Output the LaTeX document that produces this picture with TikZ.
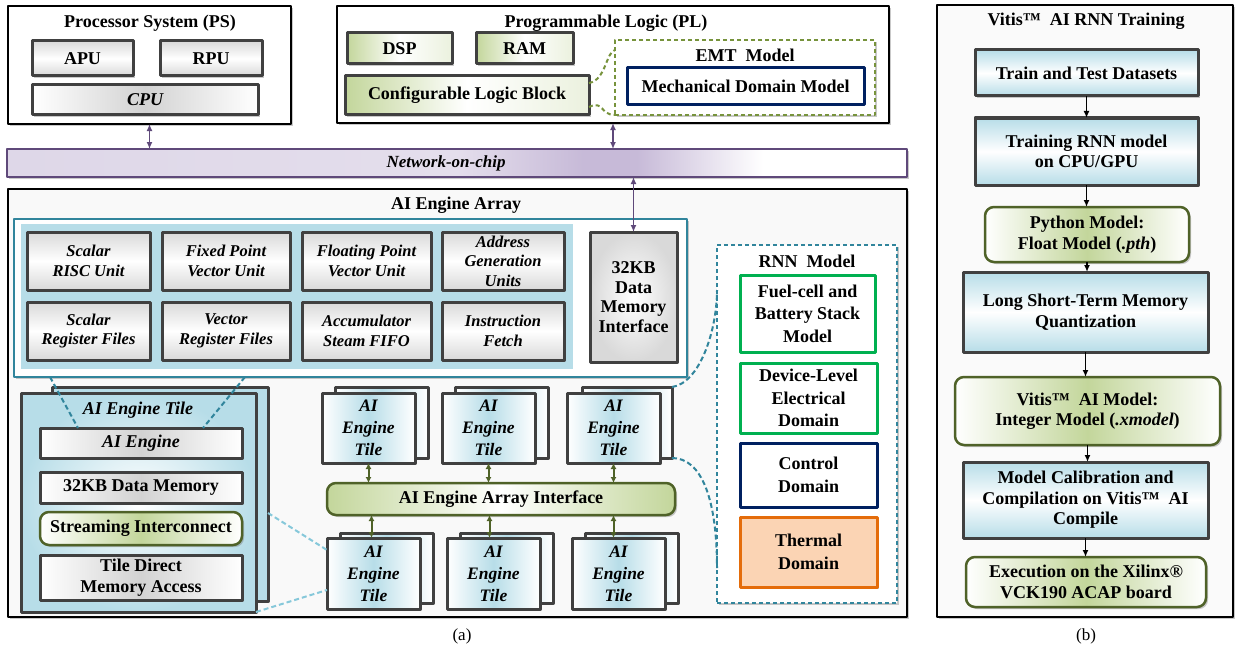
\documentclass[tikz,border=0pt]{standalone}
\usepackage{fontspec}
\setmainfont{Liberation Serif}
\usetikzlibrary{arrows.meta,shadows,calc}

\definecolor{dkgray}{HTML}{404040}
\definecolor{teal1}{HTML}{31859C}
\definecolor{lblue}{HTML}{B7DDE8}
\definecolor{nocpurple}{HTML}{5F497A}
\definecolor{lav1}{HTML}{DED7E8}
\definecolor{lav2}{HTML}{C7BAD8}
\definecolor{lav3}{HTML}{E4DEEC}
\definecolor{cOlive}{HTML}{4F6228}
\definecolor{lgreen}{HTML}{C3D69B}
\definecolor{lgreen2}{HTML}{EBF1DE}
\definecolor{emtgreen}{HTML}{77933C}
\definecolor{rnngreen}{HTML}{00B050}
\definecolor{navy1}{HTML}{002060}
\definecolor{orange1}{HTML}{E46C0A}
\definecolor{peach}{HTML}{FBD4B4}
\definecolor{pale}{HTML}{86C8DA}

% lavender bar that darkens towards the PL link and fades to white on the right
\pgfdeclarehorizontalshading{nocshade}{100bp}{color(0bp)=(lav1); color(25bp)=(lav1); color(50bp)=(lav3); color(57bp)=(lav2); color(60bp)=(lav2); color(67bp)=(white); color(75bp)=(white); color(100bp)=(white)}

% box from corner (x1,y1) to corner (x2,y2): name, style, x1, y1, x2, y2, text
\newcommand\mkbox[7]{%
  \pgfmathsetmacro\mkw{(#5)-(#3)}%
  \pgfmathsetmacro\mkh{(#6)-(#4)}%
  \pgfmathsetmacro\mkx{((#3)+(#5))/2}%
  \pgfmathsetmacro\mky{((#4)+(#6))/2}%
  \node[inner sep=0pt, outer sep=0pt, align=center, minimum width=\mkw pt, minimum height=\mkh pt, #2] (#1) at (\mkx,\mky) {#7};%
}

\newcommand\fA{\fontsize{18}{20.5}\selectfont\bfseries}
\newcommand\fB{\fontsize{16.5}{19.5}\selectfont\bfseries\itshape}
\newcommand\fT{\fontsize{17.5}{22}\selectfont\bfseries\itshape}

\begin{document}
\begin{tikzpicture}[x=1pt, y=-1pt, line join=round,
  myshadow/.style={drop shadow={shadow xshift=2pt, shadow yshift=-2pt, opacity=0.35, fill=black!60}},
  bigbox/.style={draw=black, line width=2pt, fill=white, myshadow},
  pbox/.style={draw=dkgray, line width=3pt, top color=gray!30, bottom color=gray!30, middle color=white, myshadow, font=\fA},
  bandbox/.style={draw=dkgray, line width=3pt, left color=white, right color=white, middle color=gray!35, myshadow, font=\fA},
  gbox/.style={draw=dkgray, line width=3pt, left color=lgreen, right color=lgreen2, middle color=white, myshadow, font=\fA},
  rgbox/.style={draw=cOlive, line width=2.5pt, rounded corners=9pt, left color=white, right color=white, middle color=lgreen, myshadow, font=\fA},
  tbox/.style={draw=dkgray, line width=3pt, left color=white, right color=white, middle color=lblue, font=\fT},
  fbox/.style={draw=dkgray, line width=3pt, top color=lblue, bottom color=lblue, middle color=white, myshadow, font=\fA},
  rnnbox/.style={line width=3pt, fill=white, font=\fA},
  title/.style={font=\fA, inner sep=0pt},
  parrow/.style={draw=nocpurple, line width=1.8pt, {Latex[length=7pt,width=6pt]}-{Latex[length=7pt,width=6pt]}},
  garrow/.style={draw=cOlive, line width=2pt, {Latex[length=6pt,width=6pt]}-{Latex[length=6pt,width=6pt]}},
  karrow/.style={draw=black, line width=1.6pt, -{Latex[length=7pt,width=6pt]}},
  tdash/.style={draw=teal1, line width=2pt, dash pattern=on 5pt off 3pt},
  pdash/.style={draw=pale, line width=2pt, dash pattern=on 5pt off 3pt},
  edash/.style={draw=emtgreen, line width=2pt, dash pattern=on 4pt off 3pt}
]
\useasboundingbox (0,0) rectangle (1238,650);
\fill[white] (0,0) rectangle (1238,650);

% ---------------- Processor System ----------------
\mkbox{ps}{bigbox}{8}{6}{291}{124}{}
\node[title] (pstitle) at (150,23) {Processor System (PS)};
\mkbox{apu}{pbox}{32}{41}{133}{76}{APU}
\mkbox{rpu}{pbox}{160}{41}{262}{76}{RPU}
\mkbox{cpu}{bandbox}{32}{85}{258}{115}{\itshape CPU}

% ---------------- Programmable Logic ----------------
\mkbox{pl}{bigbox}{337}{6}{889}{123}{}
\node[title] (pltitle) at (606,23) {Programmable Logic (PL)};
\mkbox{dsp}{gbox}{347}{33}{452}{64}{DSP}
\mkbox{ram}{gbox}{476}{33}{573}{64}{RAM}
\mkbox{clb}{gbox}{345}{76}{589}{115}{Configurable Logic Block}
\mkbox{emt}{draw=emtgreen, line width=2pt, dash pattern=on 4pt off 3pt, fill=white, myshadow}{615}{40}{875}{115}{}
\node[title] (emttitle) at (745,55) {EMT\ \ Model};
\mkbox{mech}{rnnbox, draw=navy1}{627}{68}{864}{105}{Mechanical Domain Model}
\coordinate (emtA) at (615,50);
\coordinate (emtB) at (615,115);
\draw[edash] ($(clb.north east)+(0,7)$) .. controls (606,80) and (606,52) .. (emtA);
\draw[edash] ($(clb.south east)+(0,-8)$) .. controls (604,100) and (600,115) .. (emtB);

% ---------------- Network-on-chip ----------------
\mkbox{noc}{draw=nocpurple, line width=2.5pt, shade, shading=nocshade, myshadow}{7}{149}{907}{177}{}
\node[font=\fontsize{17}{20}\selectfont\bfseries\itshape, inner sep=0pt] (noctext) at (446,163) {Network-on-chip};
\draw[parrow] (ps.south) -- (ps.south |- noc.north);
\draw[parrow] (pl.south) -- (pl.south |- noc.north);

% ---------------- AI Engine Array ----------------
\mkbox{aie}{draw=black, line width=2pt, fill=gray!5, myshadow}{8}{189}{907}{617}{}
\node[title] (aietitle) at (456,205) {AI Engine Array};

% engine core detail
\mkbox{core}{draw=teal1, line width=2.5pt, fill=white, myshadow}{14}{219}{687}{377}{}
\mkbox{coreblue}{fill=lblue}{21}{224}{573}{369}{}
\mkbox{g11}{pbox, font=\fB}{27}{232}{150}{290}{Scalar\\RISC Unit}
\mkbox{g12}{pbox, font=\fB}{162}{232}{290}{290}{Fixed Point\\Vector Unit}
\mkbox{g13}{pbox, font=\fB}{302}{232}{431}{290}{Floating Point\\Vector Unit}
\mkbox{g14}{pbox, font=\fB}{442}{232}{564}{290}{Address\\Generation\\Units}
\mkbox{g21}{pbox, font=\fB}{27}{302}{150}{360}{Scalar\\Register Files}
\mkbox{g22}{pbox, font=\fB}{162}{302}{290}{360}{Vector\\Register Files}
\mkbox{g23}{pbox, font=\fB}{302}{302}{431}{360}{Accumulator\\Steam FIFO}
\mkbox{g24}{pbox, font=\fB}{442}{302}{564}{360}{Instruction\\Fetch}
\mkbox{dmem}{draw=dkgray, line width=3pt, inner color=white, outer color=gray!30, myshadow, font=\fontsize{18}{19.5}\selectfont\bfseries}{590}{232}{677}{362}{32KB\\Data\\Memory\\Interface}
\draw[parrow] (dmem.north |- noc.south) -- (dmem.north);

% single tile detail
\mkbox{stackb}{draw=dkgray, line width=3pt, fill=lblue, myshadow}{52}{387}{268}{601}{}
\mkbox{stackf}{draw=dkgray, line width=3pt, inner color=white, outer color=lblue, myshadow}{21}{393}{256}{612}{}
\node[font=\fontsize{18}{20}\selectfont\bfseries\itshape, inner sep=0pt] (tiletitle) at (138,410) {AI Engine Tile};
\mkbox{aeng}{bandbox}{40}{428}{242}{458}{\itshape AI Engine}
\mkbox{tmem}{bandbox}{40}{472}{242}{503}{32KB Data Memory}
\mkbox{stream}{rgbox}{40}{512}{242}{545}{Streaming Interconnect}
\mkbox{tdma}{bandbox}{40}{555}{242}{600}{Tile Direct\\Memory Access}
\coordinate (cA) at (50,377);
\coordinate (cB) at (245,377);
\coordinate (aA) at (78,428);
\coordinate (aB) at (203,428);
\draw[tdash] (cA) -- (aA);
\draw[tdash] (cB) -- (aB);

% tile grid
\mkbox{t1b}{tbox, myshadow}{335}{387}{428}{458}{}
\mkbox{t2b}{tbox, myshadow}{455}{387}{548}{458}{}
\mkbox{t3b}{tbox, myshadow}{582}{387}{672}{458}{}
\mkbox{t1}{tbox, myshadow}{322}{393}{415}{463}{AI\\Engine\\Tile}
\mkbox{t2}{tbox, myshadow}{442}{393}{535}{463}{AI\\Engine\\Tile}
\mkbox{t3}{tbox, myshadow}{567}{393}{660}{463}{AI\\Engine\\Tile}
\mkbox{iface}{rgbox, left color=lgreen, right color=lgreen, middle color=white}{327}{483}{675}{515}{AI Engine Array Interface}
\mkbox{b1b}{tbox, myshadow}{340}{533}{433}{603}{}
\mkbox{b2b}{tbox, myshadow}{460}{533}{553}{603}{}
\mkbox{b3b}{tbox, myshadow}{585}{533}{678}{603}{}
\mkbox{b1}{tbox, myshadow}{327}{538}{420}{609}{AI\\Engine\\Tile}
\mkbox{b2}{tbox, myshadow}{447}{538}{540}{609}{AI\\Engine\\Tile}
\mkbox{b3}{tbox, myshadow}{572}{538}{665}{609}{AI\\Engine\\Tile}
\draw[garrow] (t1.south) -- (t1.south |- iface.north);
\draw[garrow] (t2.south) -- (t2.south |- iface.north);
\draw[garrow] (t3.south) -- (t3.south |- iface.north);
\draw[garrow] (iface.south -| b1.north) ++(-2,0) -- ($(b1.north)+(-2,0)$);
\draw[garrow] (iface.south -| b2.north) ++(-4,0) -- ($(b2.north)+(-4,0)$);
\draw[garrow] (iface.south -| b3.north) ++(-5,0) -- ($(b3.north)+(-5,0)$);

% links from the tile detail to one grid tile
\coordinate (sA) at (268,513);
\coordinate (sB) at (256,612);
\coordinate (bA) at (327,550);
\coordinate (bB) at (327,590);
\draw[pdash] (sA) -- (bA);
\draw[pdash] (sB) -- (bB);

% ---------------- RNN model ----------------
\mkbox{rnn}{draw=teal1, line width=2pt, dash pattern=on 4pt off 3pt, fill=white, myshadow}{717}{245}{897}{603}{}
\node[title] (rnntitle) at (807,261) {RNN\ \ Model};
\mkbox{fuel}{rnnbox, draw=rnngreen, font=\fontsize{18}{22.5}\selectfont\bfseries}{740}{275}{875}{352}{Fuel-cell and\\Battery Stack\\Model}
\mkbox{dev}{rnnbox, draw=rnngreen, font=\fontsize{18}{22.5}\selectfont\bfseries}{740}{363}{877}{433}{Device-Level\\Electrical\\Domain}
\mkbox{ctrl}{rnnbox, draw=navy1, font=\fontsize{18}{22.5}\selectfont\bfseries}{740}{443}{877}{507}{Control\\Domain}
\mkbox{therm}{rnnbox, draw=orange1, fill=peach, myshadow, font=\fontsize{18}{22.5}\selectfont\bfseries}{740}{517}{877}{587}{Thermal\\Domain}
\coordinate (rA) at (717,290);
\coordinate (rB) at (717,568);
\draw[tdash] (t3b.north east) .. controls (700,383) and (717,330) .. (rA);
\draw[tdash] (t3b.south east) .. controls (702,458) and (717,500) .. (rB);

\node[font=\fontsize{17}{20}\selectfont, inner sep=0pt] (capa) at (462,636) {(a)};

% ---------------- Vitis AI RNN training flow ----------------
\mkbox{vit}{draw=black, line width=2pt, fill=gray!4, myshadow}{937}{5}{1233}{617}{}
\node[title] (vittitle) at (1086,21) {Vitis™\ \ AI RNN Training};
\mkbox{f1}{fbox}{975}{50}{1198}{96}{Train and Test Datasets}
\mkbox{f2}{fbox}{975}{118}{1198}{185}{Training RNN model\\on CPU/GPU}
\mkbox{f3}{rgbox}{985}{207}{1189}{262}{Python Model:\\Float Model (\textit{.pth})}
\mkbox{f4}{fbox}{963}{272}{1208}{352}{Long Short-Term Memory\\Quantization}
\mkbox{f5}{rgbox}{955}{377}{1220}{445}{Vitis™\ \ AI Model:\\Integer Model (\textit{.xmodel})}
\mkbox{f6}{fbox}{963}{462}{1208}{538}{Model Calibration and\\Compilation on Vitis™\ \ AI\\Compile}
\mkbox{f7}{rgbox}{966}{557}{1206}{607}{Execution on the Xilinx®\\VCK190 ACAP board}
\draw[karrow] (f1.south) -- (f1.south |- f2.north);
\draw[karrow] (f2.south) -- (f2.south |- f3.north);
\draw[karrow] (f3.south) -- (f3.south |- f4.north);
\draw[karrow] (f4.south) -- (f4.south |- f5.north);
\draw[karrow] (f5.south) -- (f5.south |- f6.north);
\draw[karrow] (f6.south) -- (f6.south |- f7.north);

\node[font=\fontsize{17}{20}\selectfont, inner sep=0pt] (capb) at (1086,636) {(b)};
\end{tikzpicture}
\end{document}
